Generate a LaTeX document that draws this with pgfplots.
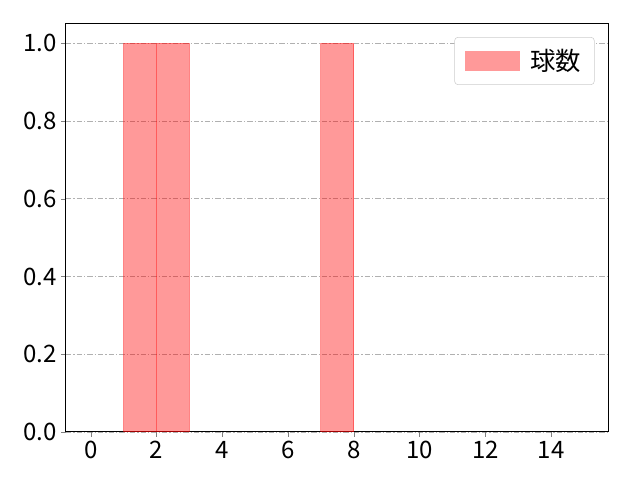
\documentclass[border=0pt]{standalone}
\usepackage{fontspec}
\setmainfont{Noto Sans CJK JP}
\usepackage{pgfplots}
\pgfplotsset{compat=1.18}
\definecolor{gridgray}{HTML}{B0B0B0}
\definecolor{legframe}{HTML}{CCCCCC}
\begin{document}
\begin{tikzpicture}
\begin{axis}[
    scale only axis,
    width=407pt, height=306pt,
    xmin=-0.75, xmax=15.75,
    ymin=0, ymax=1.05,
    xtick={0,2,...,14},
    ytick={0,0.2,...,1.0},
    yticklabel style={/pgf/number format/.cd, fixed, fixed zerofill, precision=1},
    /pgf/number format/assume math mode=true,
    tick label style={font=\fontsize{18}{21}\selectfont},
    tick align=outside,
    major tick length=3.6pt,
    xtick pos=bottom, ytick pos=left,
    ymajorgrids,
    grid style={gridgray, dash pattern=on 4pt off 1.5pt on 1pt off 1.5pt, line width=0.6pt},
    axis line style={line width=0.75pt},
    legend style={at={(0.974,0.968)}, anchor=north east, draw=legframe, rounded corners=2.5pt,
        font=\fontsize{19}{22}\selectfont, inner xsep=8pt, inner ysep=7pt},
    legend cell align=left,
    legend image code/.code={\draw[#1, sharp corners] (0pt,-7pt) rectangle (40pt,7pt);},
    legend style={/tikz/every even column/.append style={column sep=10pt}},
]
\addplot[ybar, bar width=1, bar shift=0, fill=red, fill opacity=0.4, draw=red, draw opacity=0.4, line width=0.75pt]
    coordinates {(1.5,1) (2.5,1) (7.5,1)};
\addlegendentry{\hspace{6pt}球数}
\end{axis}
\path (current axis.south west) ++(-49.5pt,-36pt) coordinate (bl);
\path (current axis.north east) ++(23.5pt,18pt) coordinate (tr);
\path (bl) rectangle (tr);
\end{tikzpicture}
\end{document}
